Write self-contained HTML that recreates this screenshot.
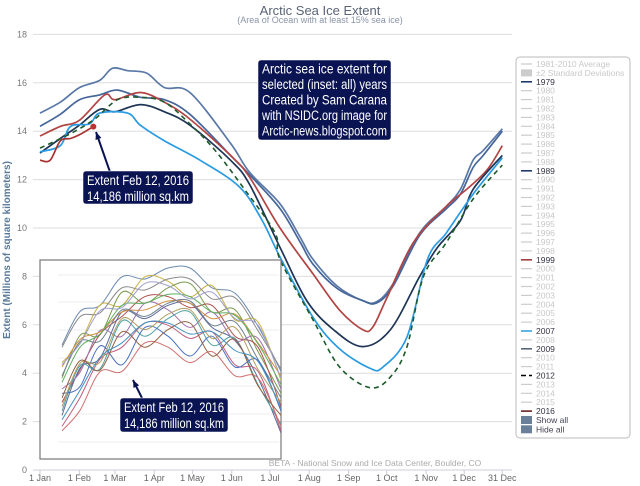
<!DOCTYPE html>
<html><head><meta charset="utf-8"><style>
html,body{margin:0;padding:0;background:#fff;}
svg{display:block;font-family:"Liberation Sans",sans-serif;}
</style></head><body>
<svg id="chart" width="640" height="486" viewBox="0 0 640 486">
<text x="320" y="15" text-anchor="middle" font-size="13" fill="#5a6478">Arctic Sea Ice Extent</text>
<text x="320" y="23" text-anchor="middle" font-size="9" fill="#8a94a8">(Area of Ocean with at least 15% sea ice)</text>
<g id="grid"></g>
<g id="yticks"></g>
<g id="xticks"></g>
<text transform="translate(10,250) rotate(-90)" text-anchor="middle" font-size="10" font-weight="bold" fill="#5a7a9a">Extent (Millions of square kilometers)</text>
<text x="375" y="466" text-anchor="middle" font-size="8.5" fill="#aaa">BETA - National Snow and Ice Data Center, Boulder, CO</text>
<g id="series"></g>
<g id="inset"></g>
<g id="legend"></g>
</svg>
<script>
const NS="http://www.w3.org/2000/svg";
const yTicks=[0,2,4,6,8,10,12,14,16,18];
const xTickLabels=["1 Jan","1 Feb","1 Mar","1 Apr","1 May","1 Jun","1 Jul","1 Aug","1 Sep","1 Oct","1 Nov","1 Dec","31 Dec"];
const xTickDays=[0,31,59,90,120,151,181,212,243,273,304,334,364];
const seriesNames=["1979","1989","1999","2009","2007","2012","2016"];
const days1979=[0,16,31,47,57,69,84,98,118,150,165,189,205,215,234,254,265,278,299,320,331,341,349,364];
const vals1979=[14.75,15.2,15.8,16.1,16.6,16.5,16.4,15.8,15.6,13.5,12.3,11.0,9.6,8.7,7.6,7.0,6.95,7.7,9.8,10.9,11.6,12.8,13.2,14.1];
const days1989=[0,16,31,47,61,79,98,118,150,165,189,205,215,234,254,265,278,299,320,331,341,349,364];
const vals1989=[14.2,14.7,15.3,15.5,15.7,15.4,15.3,14.7,13.0,12.2,10.8,9.4,8.5,7.5,7.0,6.9,7.6,9.7,10.8,11.4,12.5,13.0,14.0];
const days1999=[0,16,31,51,59,79,98,118,150,165,189,215,236,254,262,273,294,320,336,352,364];
const vals1999=[13.8,14.2,14.45,15.5,15.3,15.6,15.2,14.5,13.0,12.1,10.0,8.1,6.6,5.8,5.9,7.1,9.4,10.9,11.6,12.4,13.4];
const days2009=[0,16,31,47,59,79,98,118,150,165,189,210,231,254,276,299,313,331,341,364];
const vals2009=[13.1,13.7,14.25,14.9,14.8,15.1,14.8,14.25,12.8,11.8,9.2,7.0,5.8,5.1,5.8,8.0,9.2,10.3,11.6,13.0];
const days2007=[0,16,24,39,47,69,79,98,126,157,175,189,215,236,260,270,289,305,320,341,364];
const vals2007=[13.15,13.4,14.2,14.3,14.75,14.75,14.25,13.6,12.8,11.7,10.3,8.8,6.3,5.0,4.2,4.25,5.5,8.7,9.8,11.4,12.9];
const days2012=[0,24,43,61,79,98,118,138,161,185,189,215,236,260,276,289,302,320,341,364];
const vals2012=[13.3,13.9,14.5,15.3,15.4,15.2,14.3,13.2,11.6,9.8,8.7,6.2,4.25,3.4,3.85,5.1,8.0,9.4,11.2,12.6];
const days2016=[0,8,16,24,31,42];
const vals2016=[12.8,12.8,13.6,13.7,13.85,14.19];
const seriesDays=[days1979,days1989,days1999,days2009,days2007,days2012,days2016];
const seriesVals=[vals1979,vals1989,vals1999,vals2009,vals2007,vals2012,vals2016];
const seriesColors=["#5a78a6","#46669a","#b34444","#1e3556","#2a9be2","#1d5a2c","#a83232"];
// inset decorative lines (relative values: left start, peak, right end)
const insetStarts=[5.0,4.2,3.5,2.4,1.8,3.0,4.0,2.0,1.3,3.6,2.8,4.9,2.2,1.1,3.3,4.1,2.6,1.6];
const insetPeaks=[8.5,7.9,7.6,7.2,6.8,6.6,7.0,6.2,5.9,6.9,5.4,8.0,6.4,4.9,7.3,7.7,5.7,6.0];
const insetEnds=[3.8,3.4,2.8,2.2,1.0,3.0,3.6,1.4,1.1,2.6,2.0,3.9,2.4,1.3,3.2,3.5,1.8,2.1];
const insetWiggle=[0.3,-0.4,0.5,-0.2,0.4,-0.5,0.2,0.6,-0.3,0.4,-0.6,0.3,0.5,-0.4,0.2,-0.3,0.6,-0.2];
const insetColors=["#6a8ab0","#c8b040","#7a9a50","#b05050","#5a6a9a","#a070b0","#d09040","#50a0a0","#c06080","#708090","#4a70c0","#8a8a8a","#b0a060","#d07070","#60b060","#a0a0d0","#906040","#4090c0"];

const xS=d=>40+d*1.27;
const yS=v=>470-v*24.2;
function el(tag,attrs,parent){const e=document.createElementNS(NS,tag);for(const k in attrs)e.setAttribute(k,attrs[k]);parent.appendChild(e);return e;}
function smooth(pts){let d="M"+pts[0][0].toFixed(1)+","+pts[0][1].toFixed(1);
 for(let i=0;i<pts.length-1;i++){const p0=pts[Math.max(0,i-1)],p1=pts[i],p2=pts[i+1],p3=pts[Math.min(pts.length-1,i+2)];
 const c1=[p1[0]+(p2[0]-p0[0])/6,p1[1]+(p2[1]-p0[1])/6],c2=[p2[0]-(p3[0]-p1[0])/6,p2[1]-(p3[1]-p1[1])/6];
 d+="C"+c1.map(n=>n.toFixed(1))+" "+c2.map(n=>n.toFixed(1))+" "+p2.map(n=>n.toFixed(1));}return d;}

const grid=document.getElementById('grid'),yt=document.getElementById('yticks'),xt=document.getElementById('xticks');
yTicks.forEach(v=>{
 const l=el('line',{x1:33,x2:512,y1:yS(v),y2:yS(v),stroke:v===0?'#ccd':'#ddd','stroke-width':1},grid);
 
 
 const t=el('text',{x:27,y:yS(v)+3,'text-anchor':'end','font-size':9,fill:'#777'},yt);t.textContent=v;
 
 
});
xTickLabels.forEach((lab,i)=>{
 const x=xS(xTickDays[i]);
 const tk=el('line',{x1:x,x2:x,y1:470,y2:474,stroke:'#ccd'},xt);
 
 
 const t=el('text',{x:x,y:481,'text-anchor':'middle','font-size':9,fill:'#666'},xt);t.textContent=lab;
 
 
});

const sg=document.getElementById('series');
seriesNames.forEach((n,i)=>{
 const pts=seriesDays[i].map((d,j)=>[xS(d),yS(seriesVals[i][j])]);
 const a={d:smooth(pts),fill:'none',stroke:seriesColors[i],'stroke-width':1.7};
 if(n==="2012"){a['stroke-dasharray']='5,4';a['stroke-width']=1.6;}
 const p=el('path',a,sg);
 
 
});
const ld=days2016.length-1;
const dot=el('circle',{cx:xS(days2016[ld]),cy:yS(vals2016[ld]),r:3,fill:'#b33'},sg);



// inset
const ins=document.getElementById('inset');
const ib=el('rect',{x:40,y:260,width:241,height:199,fill:'#fff',stroke:'#777','stroke-width':1.2},ins);


[275,302,330,358,386,414,442].forEach(y=>{const g=el('line',{x1:58,x2:279,y1:y,y2:y,stroke:'#eee'},ins);
 
 });
const iy=v=>455-v*22;
insetStarts.forEach((s,i)=>{
 const pk=insetPeaks[i],en=insetEnds[i],w=insetWiggle[i];
 const pts=[[62,iy(s)],[80,iy(s+(pk-s)*0.35+w)],[100,iy(s+(pk-s)*0.6-w)],[122,iy(pk-0.7+w)],[145,iy(pk-0.2-w)],[168,iy(pk)],[190,iy(pk-0.3+w)],[212,iy(pk-0.6-w)],[235,iy((pk+en)/2+0.9+w)],[258,iy((pk+en)/2-w)],[281,iy(en)]];
 const p=el('path',{d:smooth(pts),fill:'none',stroke:insetColors[i],'stroke-width':1},ins);
 
 
});

function box(x,y,w,h,lines,fs,lh,name,par){
 const g=el('g',{},par);
 el('rect',{x:x,y:y,width:w,height:h,rx:3,fill:'#0b1452',stroke:'#fff','stroke-width':0.5},g);
 lines.forEach((t,i)=>{const tx=el('text',{x:x+4,y:y+fs+i*lh,'font-size':fs,fill:'#fff',textLength:w-8,lengthAdjust:'spacingAndGlyphs'},g);tx.textContent=t;});
 return g;}
function arrow(x1,y1,x2,y2,par,name){
 const l=el('line',{x1:x1,y1:y1,x2:x2,y2:y2,stroke:'#0b1452','stroke-width':2},par);
 
 const a=Math.atan2(y2-y1,x2-x1),s=8;
 const h=el('polygon',{points:`${x2},${y2} ${x2-s*Math.cos(a-0.4)},${y2-s*Math.sin(a-0.4)} ${x2-s*Math.cos(a+0.4)},${y2-s*Math.sin(a+0.4)}`,fill:'#0b1452'},par);
 }
const svg=document.getElementById('chart');
arrow(142,398,133,380,svg,'inset-arrow');
box(120,398,108,34,["Extent Feb 12, 2016","14,186 million sq.km"],14,16,'inset-annotation',svg);
arrow(110,172,96,132,svg,'main-arrow');
box(83,171,110,33,["Extent Feb 12, 2016","14,186 million sq.km"],14,16,'main-annotation',svg);
box(258,60,133,80,["Arctic sea ice extent for","selected (inset: all) years","Created by Sam Carana","with NSIDC.org image for","Arctic-news.blogspot.com"],13.5,15.5,'credit-annotation',svg);

// legend
const lg=document.getElementById('legend');
const lf=el('rect',{x:516,y:57,width:114,height:381,rx:4,fill:'#fff',stroke:'#bbb'},lg);

const legendItems=["1981-2010 Average","±2 Standard Deviations"];for(let y=1979;y<=2016;y++)legendItems.push(String(y));
const activeColors={"1979":"#1e3a6a","1989":"#1e3a6a","1999":"#a04040","2007":"#3aa0e0","2009":"#556677","2012":"#000","2016":"#6a2020"};
legendItems.forEach((t,i)=>{
 const y=64+i*8.9;
 const g=el('g',{},lg);
 
 
 const act=activeColors[t];
 if(i===1){el('rect',{x:521,y:y-3.5,width:11,height:7,fill:'#ccc'},g);}
 else{const a={x1:521,x2:532,y1:y,y2:y,stroke:act||'#ccc','stroke-width':act?1.6:1.2};if(t==="2012")a['stroke-dasharray']='5,3';el('line',a,g);}
 const tx=el('text',{x:536,y:y+3,'font-size':8.5,fill:act?'#334':'#c8c8c8'},g);tx.textContent=t;
});
["Show all","Hide all"].forEach((t,i)=>{
 const y=420+i*9.3;
 const g=el('g',{},lg);
 
 
 el('rect',{x:521,y:y-4,width:11,height:8,fill:'#6a7f99'},g);
 const tx=el('text',{x:536,y:y+3,'font-size':8.5,fill:'#445'},g);tx.textContent=t;
});
</script>
</body></html>
